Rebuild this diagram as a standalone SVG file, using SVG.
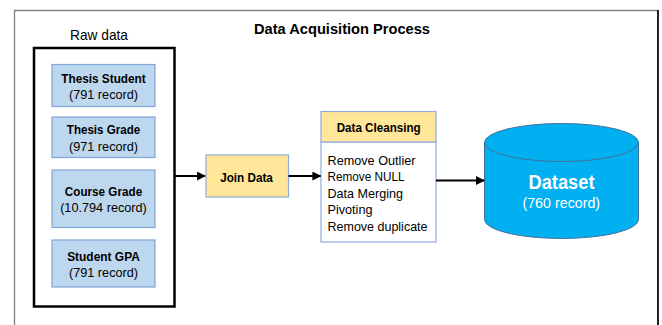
<svg xmlns="http://www.w3.org/2000/svg" width="662" height="325" viewBox="0 0 662 325">
  <style>
    text { font-family: "Liberation Sans", Arial, sans-serif; fill: #000; text-anchor: middle; }
    .b { font-weight: bold; }
    .src { fill: #BDD7EE; stroke: #7EA6D6; stroke-width: 1.2; }
    .step { fill: #FFE699; stroke: #8FAADC; stroke-width: 1.2; }
    .list { fill: #FFFFFF; stroke: #8FAADC; stroke-width: 1.2; }
    .conn { stroke: #000; stroke-width: 2; fill: none; }
  </style>
  <defs>
    <marker id="arrow" viewBox="0 0 10 10" refX="9" refY="5" markerWidth="4.5" markerHeight="4.5" orient="auto" markerUnits="strokeWidth">
      <path d="M0,0 L10,5 L0,10 z" fill="#000"/>
    </marker>
  </defs>

  <rect width="662" height="325" fill="#FFFFFF"/>

  <!-- outer frame -->
  <g id="frame">
    <path d="M14.5,325 L14.5,10.5 L658,10.5" fill="none" stroke="#808080" stroke-width="1.3"/>
    <path d="M658,10 L658,325" fill="none" stroke="#222" stroke-width="2"/>
    <text class="b" x="342" y="34" font-size="15.5" textLength="176" lengthAdjust="spacingAndGlyphs">Data Acquisition Process</text>
  </g>

  <!-- raw data container -->
  <g id="raw-data">
    <text x="99" y="39.5" font-size="14.5" textLength="58" lengthAdjust="spacingAndGlyphs">Raw data</text>
    <rect x="34" y="48" width="140.5" height="258.5" fill="none" stroke="#000" stroke-width="2.5"/>
  </g>

  <g id="thesis-student">
    <rect class="src" x="52" y="64.5" width="103" height="42"/>
    <text class="b" x="103.5" y="82.5" font-size="12.8" textLength="84.5" lengthAdjust="spacingAndGlyphs">Thesis Student</text>
    <text x="103.5" y="99" font-size="12.8" textLength="69" lengthAdjust="spacingAndGlyphs">(791 record)</text>
  </g>

  <g id="thesis-grade">
    <rect class="src" x="52" y="117" width="103" height="40.5"/>
    <text class="b" x="103.5" y="134" font-size="12.8" textLength="73.3" lengthAdjust="spacingAndGlyphs">Thesis Grade</text>
    <text x="103.5" y="150.5" font-size="12.8" textLength="69" lengthAdjust="spacingAndGlyphs">(971 record)</text>
  </g>

  <g id="course-grade">
    <rect class="src" x="52" y="170" width="103" height="57.5"/>
    <text class="b" x="103.5" y="195.5" font-size="12.8" textLength="77.3" lengthAdjust="spacingAndGlyphs">Course Grade</text>
    <text x="103.5" y="212" font-size="12.8" textLength="86.7" lengthAdjust="spacingAndGlyphs">(10.794 record)</text>
  </g>

  <g id="student-gpa">
    <rect class="src" x="52" y="240" width="103" height="47"/>
    <text class="b" x="103.5" y="260.5" font-size="12.8" textLength="72.7" lengthAdjust="spacingAndGlyphs">Student GPA</text>
    <text x="103.5" y="277" font-size="12.8" textLength="69" lengthAdjust="spacingAndGlyphs">(791 record)</text>
  </g>

  <g id="join-data">
    <rect class="step" x="206" y="155" width="82.5" height="42"/>
    <text class="b" x="246.5" y="181.5" font-size="12.8" textLength="52.7" lengthAdjust="spacingAndGlyphs">Join Data</text>
  </g>

  <g id="data-cleansing">
    <rect class="list" x="321" y="142" width="115" height="100"/>
    <rect class="step" x="321" y="111.5" width="115" height="30.5"/>
    <text class="b" x="378.7" y="132" font-size="12.8" textLength="84" lengthAdjust="spacingAndGlyphs">Data Cleansing</text>
    <g font-size="12.8">
      <text x="327.5" y="164.8" style="text-anchor:start" textLength="88" lengthAdjust="spacingAndGlyphs">Remove Outlier</text>
      <text x="327.5" y="181.3" style="text-anchor:start" textLength="77" lengthAdjust="spacingAndGlyphs">Remove NULL</text>
      <text x="327.5" y="197.8" style="text-anchor:start" textLength="75.5" lengthAdjust="spacingAndGlyphs">Data Merging</text>
      <text x="327.5" y="214.3" style="text-anchor:start" textLength="45" lengthAdjust="spacingAndGlyphs">Pivoting</text>
      <text x="327.5" y="230.8" style="text-anchor:start" textLength="100" lengthAdjust="spacingAndGlyphs">Remove duplicate</text>
    </g>
  </g>

  <g id="dataset">
    <path d="M484.5,142.5 L484.5,219.5 A77,19 0 0 0 638.5,219.5 L638.5,142.5" fill="#00B0F0" stroke="#41719C" stroke-width="1"/>
    <ellipse cx="561.5" cy="142.5" rx="77" ry="19" fill="#00B0F0" stroke="#41719C" stroke-width="1"/>
    <text class="b" x="561.5" y="188.5" font-size="19.5" style="fill:#FFFFFF" textLength="66" lengthAdjust="spacingAndGlyphs">Dataset</text>
    <text x="561.3" y="208.3" font-size="14.8" style="fill:#FFFFFF" textLength="77.7" lengthAdjust="spacingAndGlyphs">(760 record)</text>
  </g>

  <g id="connectors">
    <line class="conn" x1="174.5" y1="176" x2="205" y2="176" marker-end="url(#arrow)"/>
    <line class="conn" x1="288.5" y1="176" x2="320.5" y2="176" marker-end="url(#arrow)"/>
    <line class="conn" x1="436" y1="180.5" x2="484" y2="180.5" marker-end="url(#arrow)"/>
  </g>
</svg>
